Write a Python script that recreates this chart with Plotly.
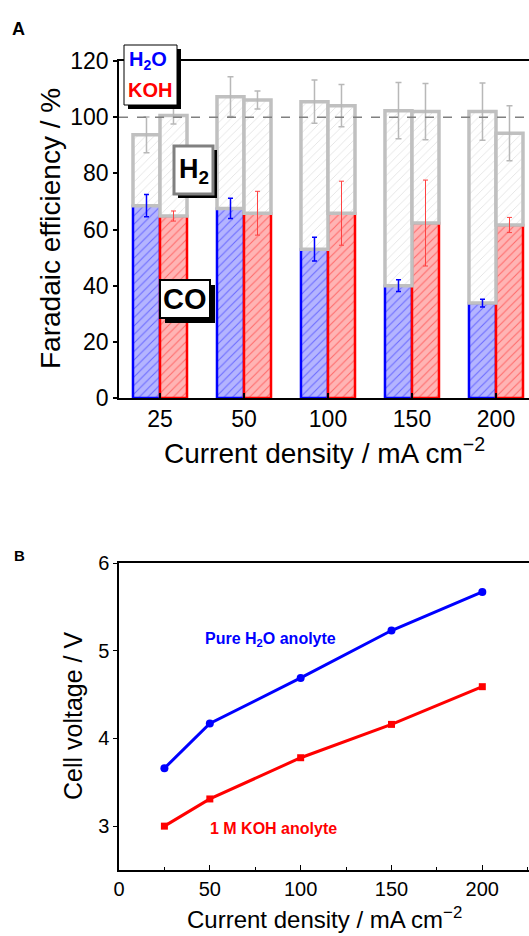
import plotly.graph_objects as go

# ---------------- data ----------------
categories = ['25', '50', '100', '150', '200']
co_h2o = [68.5, 67.5, 53.0, 40.0, 33.8]
co_h2o_err = [4.0, 3.6, 4.2, 2.1, 1.4]
co_koh = [64.8, 65.8, 65.8, 62.3, 61.6]
co_koh_err = [1.8, 7.8, 11.4, 15.3, 2.7]
h2_h2o = [25.2, 39.8, 52.5, 62.3, 68.2]
h2_h2o_err = [6.4, 7.1, 7.7, 10.0, 10.2]
h2_koh = [35.8, 40.3, 38.3, 39.7, 32.7]
h2_koh_err = [3.0, 3.2, 7.5, 10.0, 9.8]

current = [25, 50, 100, 150, 200]
v_h2o = [3.66, 4.17, 4.69, 5.23, 5.67]
v_koh = [3.00, 3.31, 3.78, 4.16, 4.59]

W, H = 529, 936
FONT = "Arial, Liberation Sans, sans-serif"


def px(x):
    return x / W


def py(y):
    return 1 - y / H


fig = go.Figure()

# CO bars
fig.add_trace(go.Bar(
    x=categories, y=co_h2o, name='H2O CO', offsetgroup='h2o',
    xaxis='x', yaxis='y',
    marker=dict(color='#b4b4ff', line=dict(color='#0000ff', width=2.5),
                pattern=dict(shape='/', fgcolor='#2020ff', bgcolor='#b4b4ff',
                             size=6, solidity=0.18)),
    showlegend=False))
fig.add_trace(go.Bar(
    x=categories, y=co_koh, name='KOH CO', offsetgroup='koh',
    xaxis='x', yaxis='y',
    marker=dict(color='#ffb4b4', line=dict(color='#ff0000', width=2.5),
                pattern=dict(shape='/', fgcolor='#ff2020', bgcolor='#ffb4b4',
                             size=6, solidity=0.18)),
    showlegend=False))
# H2 bars stacked on CO
fig.add_trace(go.Bar(
    x=categories, y=h2_h2o, base=co_h2o, name='H2O H2', offsetgroup='h2o',
    xaxis='x', yaxis='y',
    marker=dict(color='white', line=dict(color='#c0c0c0', width=3.5),
                pattern=dict(shape='/', fgcolor='#c8c8c8', bgcolor='white',
                             size=6, solidity=0.15)),
    error_y=dict(type='data', array=h2_h2o_err, color='#b8b8b8',
                 thickness=1.5, width=3),
    showlegend=False))
fig.add_trace(go.Bar(
    x=categories, y=h2_koh, base=co_koh, name='KOH H2', offsetgroup='koh',
    xaxis='x', yaxis='y',
    marker=dict(color='white', line=dict(color='#c0c0c0', width=3.5),
                pattern=dict(shape='/', fgcolor='#c8c8c8', bgcolor='white',
                             size=6, solidity=0.15)),
    error_y=dict(type='data', array=h2_koh_err, color='#b8b8b8',
                 thickness=1.5, width=3),
    showlegend=False))
# CO error bars drawn on top (transparent bars, same positions)
fig.add_trace(go.Bar(
    x=categories, y=co_h2o, offsetgroup='h2o', xaxis='x', yaxis='y',
    marker=dict(color='rgba(0,0,0,0)', line=dict(width=0)),
    error_y=dict(type='data', array=co_h2o_err, color='#0000ff',
                 thickness=1.5, width=2.5),
    hoverinfo='skip', showlegend=False))
fig.add_trace(go.Bar(
    x=categories, y=co_koh, offsetgroup='koh', xaxis='x', yaxis='y',
    marker=dict(color='rgba(0,0,0,0)', line=dict(width=0)),
    error_y=dict(type='data', array=co_koh_err, color='#ff4040',
                 thickness=1, width=2.5),
    hoverinfo='skip', showlegend=False))

# Cell voltage lines
fig.add_trace(go.Scatter(
    x=current, y=v_h2o, mode='lines+markers', xaxis='x2', yaxis='y2',
    line=dict(color='#0000ff', width=3),
    marker=dict(symbol='circle', size=8, color='#0000ff'),
    showlegend=False))
fig.add_trace(go.Scatter(
    x=current, y=v_koh, mode='lines+markers', xaxis='x2', yaxis='y2',
    line=dict(color='#ff0000', width=3),
    marker=dict(symbol='square', size=7, color='#ff0000'),
    showlegend=False))

axis_common = dict(showline=True, linecolor='black', linewidth=1.5,
                   showgrid=False, zeroline=False, tickcolor='black',
                   automargin=False)

fig.update_layout(
    width=W, height=H,
    margin=dict(l=0, r=0, t=0, b=0, pad=0, autoexpand=False),
    paper_bgcolor='white', plot_bgcolor='white',
    barmode='group', bargap=0.357, bargroupgap=0,
    font=dict(family=FONT, color='black'),
    showlegend=False,
    xaxis=dict(axis_common, domain=[px(119), 1], anchor='y', type='category',
               range=[-0.488, 4.393], ticks='inside', ticklen=5,
               tickwidth=1.5, mirror=True,
               tickfont=dict(size=23, family=FONT, color='black')),
    yaxis=dict(axis_common, domain=[py(398), py(61)], anchor='x',
               range=[0, 120], dtick=20, ticks='outside', ticklen=4,
               tickwidth=1.5, tickfont=dict(size=23, family=FONT, color='black')),
    xaxis2=dict(axis_common, domain=[px(119), 1], anchor='y2',
                range=[0, 225.7], dtick=50, ticks='inside', ticklen=5,
                tickwidth=1.2, mirror=True,
                minor=dict(dtick=25, ticks='inside', ticklen=3,
                           tickcolor='black', tickwidth=1.2),
                tickfont=dict(size=20, family=FONT, color='black')),
    yaxis2=dict(axis_common, domain=[py(870), py(563)], anchor='x2',
                range=[2.5, 6], dtick=1, ticks='outside', ticklen=4,
                tickwidth=1.2, tickfont=dict(size=20, family=FONT, color='black')),
)

# dashed 100% line
fig.add_shape(type='line', xref='x domain', yref='y', x0=0, x1=1, y0=100, y1=100,
              line=dict(color='#808080', width=1.5, dash='dash'), layer='above')


def boxed(x0, y0, x1, y1, border, bw, off):
    fig.add_shape(type='rect', xref='paper', yref='paper',
                  x0=px(x0 + off), x1=px(x1 + off), y0=py(y1 + off), y1=py(y0 + off),
                  fillcolor='black', line=dict(width=0), layer='above')
    fig.add_shape(type='rect', xref='paper', yref='paper',
                  x0=px(x0), x1=px(x1), y0=py(y1), y1=py(y0),
                  fillcolor='white', line=dict(color=border, width=bw), layer='above')


boxed(124, 45, 177, 105, 'black', 1, 4)
boxed(174, 146, 213, 194, '#808080', 3, 4)
boxed(160, 280, 210, 318, 'black', 2, 5)


def label(text, x, y, size, color='black', angle=0):
    fig.add_annotation(text=text, x=px(x), y=py(y), xref='paper', yref='paper',
                       showarrow=False, xanchor='center', yanchor='middle',
                       textangle=angle,
                       font=dict(family=FONT, size=size, color=color))


label('<b>H<sub>2</sub>O</b>', 148, 61, 20, '#0000ff')
label('<b>KOH</b>', 150, 90, 20, '#ff0000')
label('<b>H<sub>2</sub></b>', 194, 171, 27)
label('<b>CO</b>', 185, 299, 29)
label('<b>A</b>', 18, 29, 18)
label('<b>B</b>', 19, 555, 15)

# axis titles
label('Faradaic efficiency / %', 50, 229, 28, angle=-90)
label('Current density / mA cm<sup>\u22122</sup>', 324, 451, 28)
label('Cell voltage / V', 73, 716, 25, angle=-90)
label('Current density / mA cm<sup>\u22122</sup>', 324, 918, 24)

# series labels
label('<b>Pure H<sub>2</sub>O anolyte</b>', 270, 639, 16, '#0000ff')
label('<b>1 M KOH anolyte</b>', 273, 828, 16, '#ff0000')

fig.write_html("out.html",
               config={'displayModeBar': False},
               post_script="document.body.style.margin='0';"
                           "document.body.style.overflow='hidden';")
